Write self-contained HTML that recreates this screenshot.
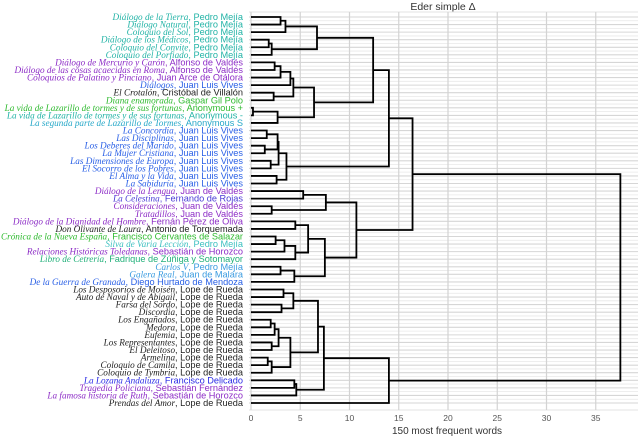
<!DOCTYPE html>
<html><head><meta charset="utf-8">
<style>
body{margin:0;background:#fff;width:640px;height:436px;overflow:hidden}
svg text{font-family:"Liberation Sans",sans-serif}
.t{font-family:"Liberation Serif",serif;font-style:italic}
</style></head>
<body>
<svg id="chart" width="640" height="436" xmlns="http://www.w3.org/2000/svg">
<text x="443" y="10" font-size="10.5" text-anchor="middle" fill="#333">Eder simple Δ</text>
<text x="447" y="434" font-size="10" text-anchor="middle" fill="#333">150 most frequent words</text>
<g id="grid"></g>
<g id="labels"></g>
<g id="tree"></g>
<g id="ticks"></g>
</svg>
<script>
const TEAL="#22b3a6",PUR="#8c2cc6",BLU="#2a60e6",GRN="#2fba2f",LBL="#3a9be0",BLK="#222",VIO="#4a3ad6",TG="#22b07a";
const leafTitles=["Diálogo de la Tierra","Diálogo Natural","Coloquio del Sol","Diálogo de los Médicos","Coloquio del Convite","Coloquio del Porfiado","Diálogo de Mercurio y Carón","Diálogo de las cosas acaecidas en Roma","Coloquios de Palatino y Pinciano","Diálogos","El Crotalón","Diana enamorada","La vida de Lazarillo de tormes y de sus fortunas","La vida de Lazarillo de tormes y de sus fortunas","La segunda parte de Lazarillo de Tormes","La Concordia","Las Disciplinas","Los Deberes del Marido","La Mujer Cristiana","Las Dimensiones de Europa","El Socorro de los Pobres","El Alma y la Vida","La Sabiduría","Diálogo de la Lengua","La Celestina","Consideraciones","Tratadillos","Diálogo de la Dignidad del Hombre","Don Olivante de Laura","Crónica de la Nueva España","Silva de Varia Lección","Relaciones Históricas Toledanas","Libro de Cetrería","Carlos V","Galera Real","De la Guerra de Granada","Los Desposorios de Moisén","Auto de Naval y de Abigail","Farsa del Sordo","Discordia","Los Engañados","Medora","Eufemia","Los Representantes","El Deleitoso","Armelina","Coloquio de Camila","Coloquio de Tymbria","La Lozana Andaluza","Tragedia Policiana","La famosa historia de Ruth","Prendas del Amor"];
const PM="Pedro Mejía",JLV="Juan Luis Vives",LR="Lope de Rueda",JV="Juan de Valdés",AV="Alfonso de Valdés";
const leafAuthors=[PM,PM,PM,PM,PM,PM,AV,AV,"Juan Arce de Otálora",JLV,"Cristóbal de Villalón","Gaspar Gil Polo","Anonymous +","Anonymous -","Anonymous S",JLV,JLV,JLV,JLV,JLV,JLV,JLV,JLV,JV,"Fernando de Rojas",JV,JV,"Fernán Pérez de Oliva","Antonio de Torquemada","Francisco Cervantes de Salazar",PM,"Sebastián de Horozco","Fadrique de Zúñiga y Sotomayor",PM,"Juan de Malara","Diego Hurtado de Mendoza",LR,LR,LR,LR,LR,LR,LR,LR,LR,LR,LR,LR,"Francisco Delicado","Sebastián Fernández","Sebastián de Horozco",LR];
const leafColors=[TEAL,TEAL,TEAL,TEAL,TEAL,TEAL,PUR,PUR,PUR,BLU,BLK,GRN,GRN,TEAL,"#27a8c8",BLU,BLU,BLU,BLU,BLU,BLU,BLU,BLU,PUR,VIO,PUR,PUR,PUR,BLK,GRN,"#3cc0c0",PUR,TG,LBL,LBL,BLU,BLK,BLK,BLK,BLK,BLK,BLK,BLK,BLK,BLK,BLK,BLK,BLK,"#2a2ae6",PUR,PUR,BLK];
const tickLabels=["0","5","10","15","20","25","30","35"];
const tickValues=[0,5,10,15,20,25,30,35];
// merge tree: [height, left, right]; integers are leaf indices
const tree=[37.5,
 [16.4,
  [14.0,
   [12.4,
    [6.7,[3.5,[3.0,0,1],2],[2.1,[1.8,3,4],5]],
    [6.4,[4.3,[4.0,[3.0,[2.4,6,7],8],9],[2.3,10,11]],[2.7,[0.2,12,13],14]]
   ],
   [3.6,[2.8,[2.7,[1.6,15,16],[1.4,17,18]],[2.0,19,20]],[2.6,21,22]]
  ],
  [10.7,
   [7.6,[5.3,23,24],[2.1,25,26]],
   [7.5,[5.8,[4.5,27,28],[4.5,[3.4,[2.5,29,30],31],32]],[4.4,[3.0,33,34],35]]
  ]
 ],
 [14.0,
  [7.4,[6.8,[4.3,[3.3,36,37],[3.1,38,39]],[4.0,[2.8,[2.4,[2.0,40,41],42],[2.1,43,44]],[2.1,[1.7,45,46],47]]],[4.6,[4.4,48,49],50]],
  51]
];
const NS="http://www.w3.org/2000/svg";
const X0=251,PXU=9.85,Y0=17,DY=(403-17)/51,PL=249,PR=638,PT=12,PB=410;
const sx=v=>X0+v*PXU, sy=i=>Y0+i*DY;
function mk(tag,attrs,parent){const e=document.createElementNS(NS,tag);for(const k in attrs)e.setAttribute(k,attrs[k]);parent.appendChild(e);return e;}
const grid=document.getElementById('grid');
for(let i=0;i<leafTitles.length;i++){
 const l=mk('line',{x1:PL,x2:PR,y1:sy(i),y2:sy(i),stroke:'#d6d6d6','stroke-width':1.1},grid);
 
 
 if(i<leafTitles.length-1){const m=mk('line',{x1:PL,x2:PR,y1:sy(i+0.5),y2:sy(i+0.5),stroke:'#e8e8e8','stroke-width':0.8},grid);
 
 }
}
mk('line',{x1:PL,x2:PR,y1:PT,y2:PT,stroke:'#e3e3e3'},grid);
mk('line',{x1:PL,x2:PR,y1:PB,y2:PB,stroke:'#e3e3e3'},grid);
const ticks=document.getElementById('ticks');
tickValues.forEach((v,i)=>{
 const l=mk('line',{x1:sx(v),x2:sx(v),y1:PT,y2:PB,stroke:'#d3d3d3','stroke-width':1.2},grid);
 
 
 const t=mk('text',{x:sx(v),y:421,'font-size':8.5,'text-anchor':'middle',fill:'#555'},ticks);
 t.textContent=tickLabels[i];
 
 
});
const labels=document.getElementById('labels');
leafTitles.forEach((title,i)=>{
 const t=mk('text',{x:243,y:sy(i)+3,'font-size':9.2,'text-anchor':'end'},labels);
 
 
 const a=mk('tspan',{class:'t',fill:leafColors[i]},t);a.textContent=title;
 const b=mk('tspan',{fill:leafColors[i]},t);b.textContent=", ";
 const c=mk('tspan',{fill:leafColors[i]},t);c.textContent=leafAuthors[i];
});
const tg=document.getElementById('tree');
function draw(n){
 if(typeof n==='number')return {y:sy(n),h:0};
 const L=draw(n[1]),R=draw(n[2]),x=sx(n[0]);
 const p=mk('path',{d:`M${sx(L.h)},${L.y}H${x}V${R.y}H${sx(R.h)}`,fill:'none',stroke:'#000','stroke-width':1.8},tg);
 
 
 return {y:(L.y+R.y)/2,h:n[0]};
}
draw(tree);
</script>
</body></html>
